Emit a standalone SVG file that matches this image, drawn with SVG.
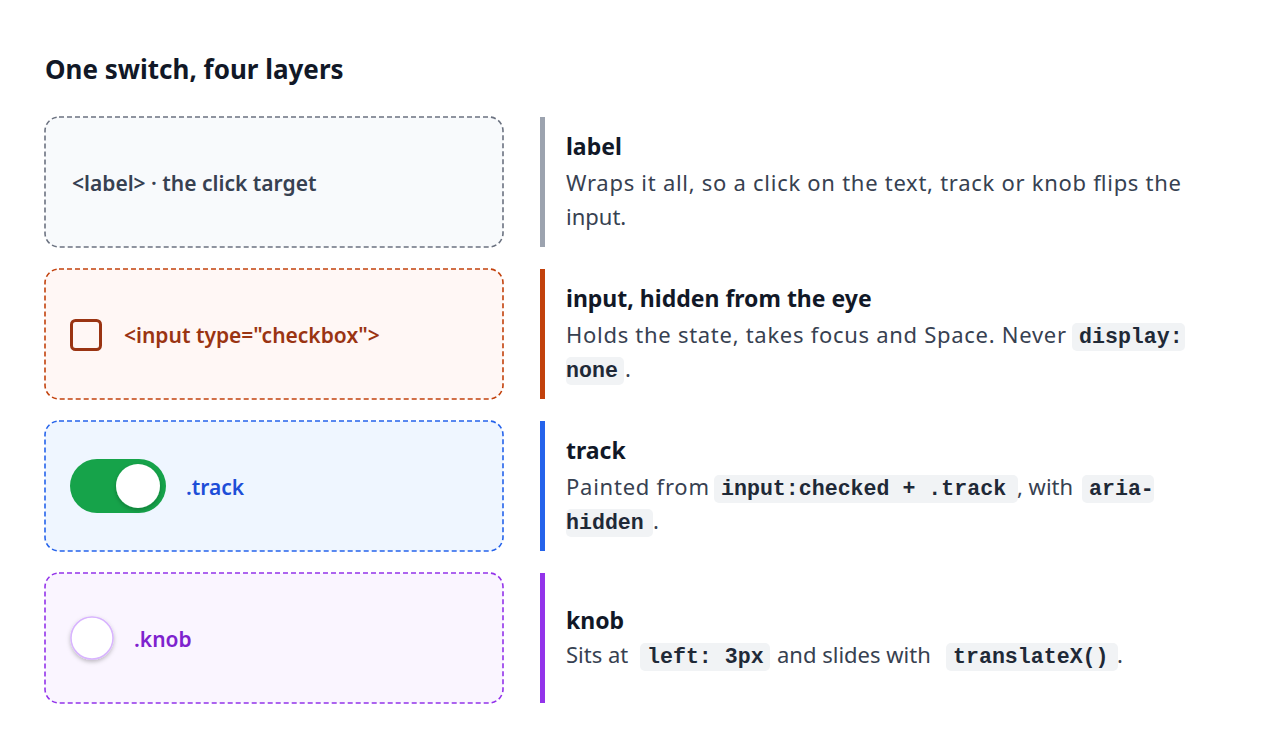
<svg xmlns="http://www.w3.org/2000/svg" width="1280" height="756" viewBox="0 0 1280 756">
<defs>
<style>
.t{font-family:"Noto Sans","Open Sans",sans-serif}
.h{font-family:"Noto Sans",sans-serif;font-weight:700;font-size:23px;fill:#111827}
.b{font-family:"Noto Sans",sans-serif;font-size:22px;fill:#374151}
.c{font-family:"Liberation Mono",monospace;font-weight:700;font-size:21.6px;fill:#1f2937}
.cb{fill:#f1f3f5}
.card{stroke-width:1.6;stroke-dasharray:5 3}
.lab{font-family:"Noto Sans",sans-serif;font-weight:600;font-size:21px}
</style>
<filter id="sh" x="-50%" y="-50%" width="200%" height="200%"><feDropShadow dx="0" dy="2" stdDeviation="2" flood-color="#000" flood-opacity="0.25"/></filter>
</defs>
<rect width="1280" height="756" fill="#fff"/>
<text x="45" y="79" font-family="Noto Sans,sans-serif" font-weight="700" font-size="26" fill="#111827">One switch, four layers</text>

<g id="label-card">
<rect class="card" x="45" y="117" width="458" height="130" rx="14" fill="#f8fafc" stroke="#6b7280" stroke-dasharray="2 2"/>
<text class="lab" x="72" y="191" fill="#374151">&lt;label&gt; · the click target</text>
</g>
<g id="input-card">
<rect class="card" x="45" y="269" width="458" height="130" rx="14" fill="#fff7f5" stroke="#c2410c"/>
<rect x="71.5" y="320.5" width="29" height="29" rx="4" fill="none" stroke="#9a3412" stroke-width="3"/>
<text class="lab" x="124" y="343" fill="#9a3412">&lt;input type="checkbox"&gt;</text>
</g>
<g id="track-card">
<rect class="card" x="45" y="421" width="458" height="130" rx="14" fill="#eff6ff" stroke="#2563eb"/>
<rect x="70" y="459" width="96" height="54" rx="27" fill="#16a34a"/>
<circle cx="138" cy="486" r="22" fill="#fff" filter="url(#sh)"/>
<text class="lab" x="186" y="495" fill="#1d4ed8">.track</text>
</g>
<g id="knob-card">
<rect class="card" x="45" y="573" width="458" height="130" rx="14" fill="#faf5ff" stroke="#9333ea"/>
<circle cx="92" cy="638" r="21" fill="#fff" stroke="#d8b4fe" stroke-width="1.5" filter="url(#sh)"/>
<text class="lab" x="134" y="647" fill="#7e22ce">.knob</text>
</g>

<g id="connectors">
<rect x="540" y="117" width="5" height="130" fill="#9ca3af"/>
<rect x="540" y="269" width="5" height="130" fill="#c2410c"/>
<rect x="540" y="421" width="5" height="130" fill="#2563eb"/>
<rect x="540" y="573" width="5" height="130" fill="#9333ea"/>
</g>

<g id="label-desc">
<text class="h" x="566" y="155">label</text>
<text class="b" x="566" y="191" textLength="615">Wraps it all, so a click on the text, track or knob flips the</text>
<text class="b" x="566" y="225">input.</text>
</g>
<g id="input-desc">
<text class="h" x="566" y="307">input, hidden from the eye</text>
<text class="b" x="566" y="343" textLength="500">Holds the state, takes focus and Space. Never</text>
<rect class="cb" x="1072" y="323" width="113" height="28" rx="5"/>
<text class="c" x="1079" y="343">display:</text>
<rect class="cb" x="566" y="357" width="58" height="28" rx="5"/>
<text class="c" x="566" y="377">none</text>
<text class="b" x="625" y="377">.</text>
</g>
<g id="track-desc">
<text class="h" x="566" y="459">track</text>
<text class="b" x="566" y="495" textLength="143">Painted from</text>
<rect class="cb" x="714" y="475" width="304" height="28" rx="5"/>
<text class="c" x="721" y="495">input:checked + .track</text>
<text class="b" x="1017" y="495">, with</text>
<rect class="cb" x="1082" y="475" width="72" height="28" rx="5"/>
<text class="c" x="1089" y="495">aria-</text>
<rect class="cb" x="566" y="509" width="87" height="28" rx="5"/>
<text class="c" x="566" y="529">hidden</text>
<text class="b" x="653" y="529">.</text>
</g>
<g id="knob-desc">
<text class="h" x="566" y="629">knob</text>
<text class="b" x="566" y="663">Sits at</text>
<rect class="cb" x="640" y="643" width="130" height="28" rx="5"/>
<text class="c" x="647" y="663">left: 3px</text>
<text class="b" x="777" y="663">and slides with</text>
<rect class="cb" x="946" y="643" width="172" height="28" rx="5"/>
<text class="c" x="953" y="663">translateX()</text>
<text class="b" x="1117" y="663">.</text>
</g>
</svg>
